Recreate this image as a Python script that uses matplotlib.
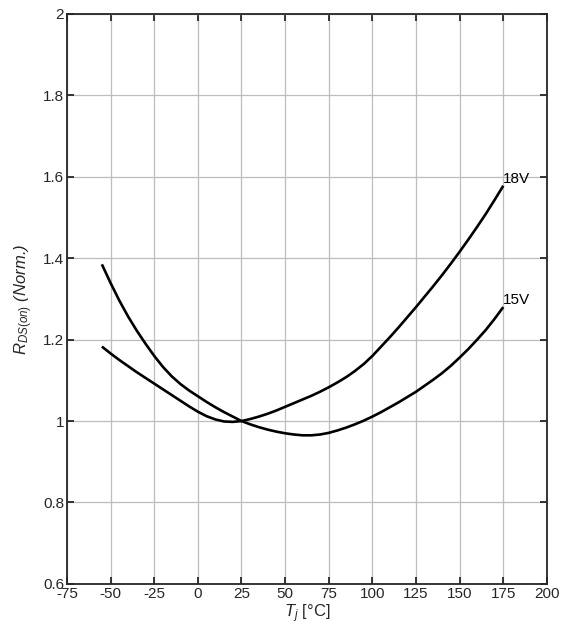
import matplotlib.pyplot as plt
from matplotlib.ticker import FuncFormatter

plt.rcParams['font.family'] = ['Liberation Sans', 'DejaVu Sans']
plt.rcParams['mathtext.fontset'] = 'custom'
plt.rcParams['mathtext.rm'] = 'Liberation Sans'
plt.rcParams['mathtext.it'] = 'Liberation Sans:italic'
plt.rcParams['axes.unicode_minus'] = False

# values, every 5 degC
temps = list(range(-55, 176, 5))
r_15v = [1.385, 1.339, 1.296, 1.257, 1.222, 1.190, 1.160, 1.133, 1.110, 1.091,
         1.075, 1.061, 1.047, 1.034, 1.022, 1.011, 1.000, 0.992, 0.985, 0.979,
         0.974, 0.970, 0.967, 0.965, 0.965, 0.967, 0.971, 0.977, 0.984, 0.992,
         1.001, 1.011, 1.022, 1.034, 1.046, 1.059, 1.072, 1.087, 1.102, 1.118,
         1.136, 1.156, 1.177, 1.200, 1.224, 1.251, 1.280]
r_18v = [1.183, 1.166, 1.150, 1.135, 1.120, 1.106, 1.092, 1.078, 1.064, 1.050,
         1.036, 1.023, 1.012, 1.004, 0.999, 0.998, 1.000, 1.005, 1.011, 1.018,
         1.026, 1.035, 1.044, 1.053, 1.062, 1.072, 1.083, 1.095, 1.108, 1.123,
         1.140, 1.160, 1.183, 1.206, 1.230, 1.255, 1.280, 1.306, 1.332, 1.359,
         1.387, 1.416, 1.446, 1.477, 1.509, 1.543, 1.578]
labels = ['18V', '15V']

xticks = list(range(-75, 201, 25))
yticks = [0.6, 0.8, 1.0, 1.2, 1.4, 1.6, 1.8, 2.0]

fig = plt.figure(figsize=(5.7, 6.34), dpi=100)
ax = fig.add_axes([0.1175, 0.079, 0.842, 0.899])

ax.plot(temps, r_18v, color='black', lw=1.9, solid_capstyle='butt',
        solid_joinstyle='round')
ax.plot(temps, r_15v, color='black', lw=1.9, solid_capstyle='butt',
        solid_joinstyle='round')

ax.text(temps[-1], r_18v[-1], labels[0], ha='left', va='bottom', fontsize=11)
ax.text(temps[-1], r_15v[-1], labels[1], ha='left', va='bottom', fontsize=11)

ax.set_xlim(-75, 200)
ax.set_ylim(0.6, 2.0)
ax.set_xticks(xticks)
ax.set_yticks(yticks)
ax.yaxis.set_major_formatter(FuncFormatter(lambda v, p: f'{v:g}'))
ax.grid(True, color='#bdbdbd', lw=0.9)
ax.set_axisbelow(True)

ax.tick_params(direction='in', length=5, width=1.3, top=True, right=True,
               labelsize=11, colors='#262626', pad=2)
for s in ax.spines.values():
    s.set_linewidth(1.3)
    s.set_color('#262626')

ax.set_xlabel(r'$T_j$ [°C]', fontsize=12, color='#262626', labelpad=1)
ax.set_ylabel(r'$R_{\mathit{DS(on)}}$ (Norm.)', fontsize=12, style='italic',
              color='#262626', labelpad=6)

fig.savefig('out.png', dpi=100)
